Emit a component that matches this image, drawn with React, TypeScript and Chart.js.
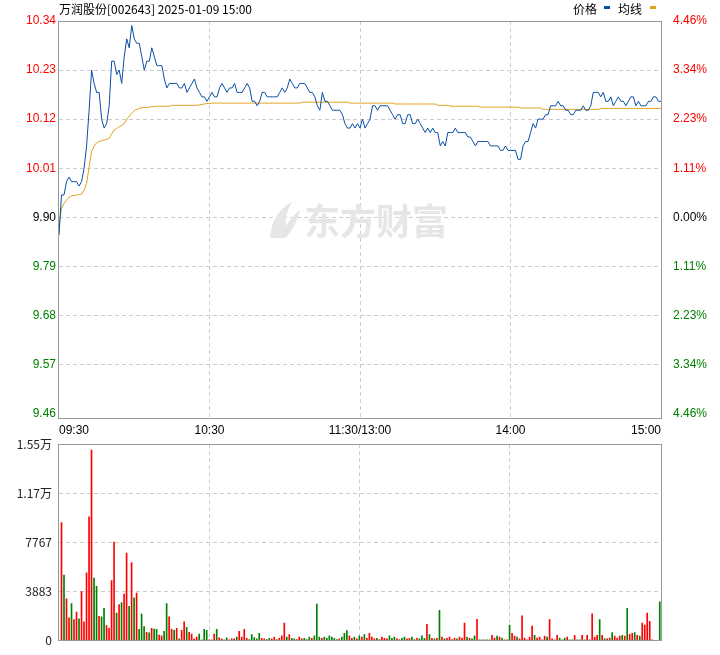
import React, { useEffect, useRef } from "react";
import { Chart, registerables } from "chart.js";

Chart.register(...registerables);

const TITLE = "万润股份[002643] 2025-01-09 15:00";
const LEGEND_PRICE = "价格";
const LEGEND_AVG = "均线";
const WATERMARK = "东方财富";

const timeTickValues = [0, 60, 120, 180, 240];
const timeTickLabels = ["09:30", "10:30", "11:30/13:00", "14:00", "15:00"];
const priceTicks = [9.46, 9.57, 9.68, 9.79, 9.9, 10.01, 10.12, 10.23, 10.34];
const pctLabels = ["4.46%", "3.34%", "2.23%", "1.11%", "0.00%", "1.11%", "2.23%", "3.34%", "4.46%"];
const PREV_CLOSE = 9.9;
const PRICE_MIN = 9.448;
const PRICE_MAX = 10.34;
const volTicks = [0, 3883, 7767, 11650, 15533];
const volTickLabels = ["0", "3883", "7767", "1.17万", "1.55万"];

const price = [
  9.86, 9.95, 9.95, 9.98, 9.99, 9.98, 9.98, 9.98, 9.97, 9.98,
  10.01, 10.06, 10.14, 10.23, 10.2, 10.18, 10.18, 10.12, 10.1, 10.11,
  10.15, 10.25, 10.25, 10.22, 10.23, 10.2, 10.26, 10.3, 10.28, 10.33,
  10.3, 10.29, 10.29, 10.26, 10.23, 10.25, 10.25, 10.28, 10.26, 10.24,
  10.24, 10.24, 10.21, 10.19, 10.2, 10.2, 10.2, 10.2, 10.19, 10.19,
  10.2, 10.18, 10.19, 10.2, 10.21, 10.19, 10.18, 10.17, 10.17, 10.16,
  10.17, 10.18, 10.17, 10.17, 10.19, 10.2, 10.19, 10.18, 10.19, 10.19,
  10.2, 10.18, 10.18, 10.18, 10.19, 10.2, 10.19, 10.16, 10.16, 10.15,
  10.16, 10.18, 10.18, 10.17, 10.17, 10.17, 10.17, 10.17, 10.18, 10.19,
  10.18, 10.19, 10.21, 10.2, 10.19, 10.19, 10.2, 10.2, 10.2, 10.19,
  10.18, 10.18, 10.17, 10.15, 10.14, 10.18, 10.16, 10.16, 10.15, 10.14,
  10.14, 10.14, 10.14, 10.13, 10.11, 10.1, 10.1, 10.11, 10.1, 10.11,
  10.1, 10.12, 10.1, 10.11, 10.12, 10.15, 10.15, 10.14, 10.15, 10.15,
  10.15, 10.15, 10.14, 10.13, 10.12, 10.13, 10.13, 10.11, 10.11, 10.13,
  10.13, 10.11, 10.11, 10.12, 10.11, 10.1, 10.09, 10.1, 10.09, 10.1,
  10.09, 10.09, 10.06, 10.07, 10.06, 10.09, 10.09, 10.09, 10.1, 10.09,
  10.09, 10.09, 10.09, 10.08, 10.08, 10.07, 10.06, 10.07, 10.07, 10.07,
  10.07, 10.07, 10.06, 10.06, 10.06, 10.06, 10.05, 10.05, 10.06, 10.05,
  10.05, 10.05, 10.05, 10.03, 10.03, 10.06, 10.07, 10.07, 10.09, 10.11,
  10.1, 10.12, 10.12, 10.12, 10.13, 10.13, 10.15, 10.15, 10.15, 10.16,
  10.15, 10.15, 10.14, 10.14, 10.13, 10.13, 10.14, 10.14, 10.14, 10.15,
  10.14, 10.14, 10.15, 10.18, 10.18, 10.18, 10.17, 10.18, 10.16, 10.16,
  10.17, 10.15, 10.16, 10.17, 10.16, 10.16, 10.15, 10.16, 10.17, 10.17,
  10.15, 10.16, 10.15, 10.15, 10.15, 10.16, 10.16, 10.17, 10.17, 10.16,
  10.16,
];

const avgPrice = [
  9.879, 9.92, 9.931, 9.939, 9.945, 9.948, 9.949, 9.95, 9.951, 9.952,
  9.961, 9.976, 10.013, 10.047, 10.06, 10.067, 10.07, 10.072, 10.073, 10.075,
  10.077, 10.087, 10.096, 10.099, 10.103, 10.106, 10.11, 10.119, 10.127, 10.133,
  10.139, 10.142, 10.144, 10.146, 10.146, 10.146, 10.147, 10.148, 10.148, 10.149,
  10.149, 10.149, 10.149, 10.149, 10.149, 10.151, 10.151, 10.151, 10.151, 10.151,
  10.151, 10.151, 10.151, 10.151, 10.151, 10.151, 10.152, 10.153, 10.154, 10.155,
  10.155, 10.156, 10.156, 10.156, 10.156, 10.156, 10.156, 10.156, 10.156, 10.156,
  10.156, 10.156, 10.156, 10.156, 10.156, 10.156, 10.156, 10.156, 10.156, 10.156,
  10.156, 10.156, 10.156, 10.156, 10.156, 10.156, 10.156, 10.156, 10.156, 10.156,
  10.156, 10.156, 10.156, 10.156, 10.156, 10.156, 10.156, 10.158, 10.158, 10.158,
  10.158, 10.158, 10.158, 10.158, 10.158, 10.158, 10.158, 10.158, 10.158, 10.158,
  10.158, 10.158, 10.158, 10.158, 10.158, 10.158, 10.156, 10.156, 10.156, 10.156,
  10.156, 10.156, 10.156, 10.156, 10.156, 10.156, 10.156, 10.156, 10.156, 10.156,
  10.156, 10.156, 10.156, 10.156, 10.154, 10.154, 10.154, 10.154, 10.154, 10.154,
  10.154, 10.154, 10.154, 10.154, 10.154, 10.154, 10.154, 10.154, 10.154, 10.154,
  10.154, 10.151, 10.151, 10.151, 10.151, 10.151, 10.149, 10.149, 10.149, 10.149,
  10.149, 10.149, 10.149, 10.149, 10.149, 10.149, 10.149, 10.149, 10.147, 10.147,
  10.147, 10.147, 10.147, 10.147, 10.147, 10.147, 10.147, 10.147, 10.147, 10.147,
  10.147, 10.147, 10.147, 10.147, 10.145, 10.145, 10.145, 10.145, 10.145, 10.145,
  10.145, 10.145, 10.145, 10.142, 10.142, 10.142, 10.142, 10.142, 10.142, 10.142,
  10.142, 10.142, 10.142, 10.142, 10.142, 10.142, 10.142, 10.142, 10.142, 10.142,
  10.142, 10.142, 10.142, 10.142, 10.142, 10.142, 10.144, 10.144, 10.144, 10.144,
  10.144, 10.144, 10.144, 10.144, 10.144, 10.144, 10.144, 10.144, 10.144, 10.144,
  10.144, 10.144, 10.144, 10.144, 10.144, 10.144, 10.144, 10.144, 10.144, 10.144,
  10.144,
];

const volume = [
  0, 9348, 5202, 3317, 1809, 2940, 1684, 2262, 1734, 3895,
  1508, 5378, 9801, 15078, 4951, 4297, 1935, 1885, 2563, 1206,
  980, 4750, 7790, 2186, 2865, 3016, 3694, 6936, 2714, 6182,
  3393, 3770, 905, 2111, 1131, 679, 628, 980, 930, 905,
  452, 402, 754, 2940, 1885, 905, 829, 980, 151, 829,
  1508, 1055, 679, 528, 151, 302, 528, 75, 905, 829,
  75, 75, 528, 905, 226, 151, 75, 226, 75, 151,
  151, 302, 754, 300, 900, 200, 100, 500, 250, 150,
  600, 200, 150, 100, 200, 150, 300, 100, 200, 400,
  1400, 300, 500, 200, 150, 100, 300, 150, 200, 100,
  300, 200, 400, 2900, 300, 200, 300, 200, 400, 300,
  200, 100, 150, 300, 600, 800, 400, 200, 300, 150,
  400, 300, 500, 200, 600, 300, 150, 200, 100, 300,
  200, 150, 400, 200, 300, 150, 100, 200, 300, 150,
  200, 300, 100, 200, 150, 400, 200, 1300, 500, 200,
  150, 200, 2400, 300, 150, 200, 300, 100, 200, 150,
  300, 200, 1400, 300, 200, 150, 400, 1700, 73, 73,
  73, 73, 73, 440, 220, 366, 293, 220, 73, 73,
  1245, 586, 366, 293, 147, 1978, 220, 73, 293, 1172,
  440, 220, 293, 73, 366, 293, 1685, 147, 73, 440,
  220, 73, 220, 293, 73, 73, 440, 73, 73, 440,
  73, 440, 73, 2125, 293, 440, 1685, 440, 147, 147,
  220, 659, 366, 220, 366, 440, 366, 2564, 513, 586,
  659, 440, 366, 1392, 1245, 2198, 1538, 73, 0, 0,
  3077,
];

// 1 = red (up), 0 = green (down)
const volUp = [
  1, 1, 0, 1, 1, 0, 1, 1, 0, 1,
  1, 1, 1, 1, 0, 0, 1, 0, 0, 1,
  1, 1, 1, 0, 1, 0, 1, 1, 0, 1,
  0, 1, 0, 0, 0, 1, 0, 1, 0, 0,
  1, 1, 0, 0, 1, 1, 0, 1, 0, 1,
  1, 0, 1, 1, 1, 1, 0, 0, 0, 0,
  1, 1, 1, 0, 1, 1, 0, 0, 1, 1,
  1, 0, 1, 1, 1, 1, 0, 0, 0, 0,
  0, 1, 1, 0, 0, 1, 1, 0, 1, 1,
  1, 0, 1, 0, 0, 1, 1, 1, 0, 0,
  0, 1, 0, 0, 0, 1, 0, 0, 0, 0,
  0, 0, 1, 0, 0, 0, 1, 1, 0, 1,
  0, 1, 0, 1, 1, 1, 1, 0, 1, 1,
  1, 1, 0, 0, 0, 1, 1, 0, 0, 1,
  1, 0, 0, 1, 0, 0, 0, 1, 0, 1,
  0, 1, 0, 1, 0, 1, 1, 1, 1, 0,
  1, 1, 1, 0, 1, 0, 0, 1, 0, 0,
  1, 0, 0, 1, 1, 0, 1, 0, 1, 1,
  0, 1, 1, 0, 1, 1, 1, 1, 1, 1,
  0, 1, 1, 1, 1, 0, 1, 1, 1, 1,
  0, 0, 0, 1, 0, 0, 1, 0, 0, 1,
  0, 1, 1, 1, 1, 1, 0, 1, 0, 1,
  1, 0, 1, 1, 1, 0, 1, 0, 1, 1,
  0, 1, 0, 1, 1, 1, 1, 1, 0, 0,
  0,
];

const BLUE = "#0a4fa6";
const GOLD = "#e0a11c";
const RED = "#ff0000";
const GREEN = "#008000";
const GRID = "#cccccc";
const FRAME = "#999999";
const AXIS_FONT = { family: "Arial, 'Liberation Sans', sans-serif", size: 12 };
const CJK = "'Noto Sans CJK SC', sans-serif";

const framePlugin = {
  id: "frame",
  afterDatasetsDraw(chart: any) {
    const { ctx, chartArea: a } = chart;
    ctx.save();
    ctx.strokeStyle = FRAME;
    ctx.lineWidth = 1;
    ctx.strokeRect(Math.round(a.left) - 0.5, Math.round(a.top) + 0.5, Math.round(a.right - a.left) + 1, Math.round(a.bottom - a.top) - 1);
    ctx.restore();
  },
};

const headerPlugin = {
  id: "header",
  afterDraw(chart: any) {
    const { ctx } = chart;
    ctx.save();
    ctx.font = `12px ${CJK}`;
    ctx.fillStyle = "#000";
    ctx.textBaseline = "middle";
    ctx.textAlign = "left";
    ctx.fillText(TITLE, 59, 9);
    ctx.fillText(LEGEND_PRICE, 573, 9);
    ctx.fillText(LEGEND_AVG, 618, 9);
    ctx.fillStyle = BLUE;
    ctx.fillRect(604, 6, 6, 3);
    ctx.fillStyle = GOLD;
    ctx.fillRect(650, 6, 6, 3);
    ctx.restore();
  },
};

const watermarkPlugin = {
  id: "watermark",
  beforeDatasetsDraw(chart: any) {
    const { ctx } = chart;
    ctx.save();
    ctx.fillStyle = "#e6e6e6";
    ctx.font = `bold 36px ${CJK}`;
    ctx.textBaseline = "middle";
    ctx.textAlign = "left";
    ctx.fillText(WATERMARK, 304, 221);
    ctx.beginPath();
    ctx.moveTo(270, 238);
    ctx.quadraticCurveTo(272, 212, 292, 202);
    ctx.quadraticCurveTo(284, 216, 286, 226);
    ctx.quadraticCurveTo(294, 214, 300, 210);
    ctx.quadraticCurveTo(296, 226, 286, 238);
    ctx.closePath();
    ctx.fill();
    ctx.restore();
  },
};

export default function App() {
  const priceRef = useRef<HTMLCanvasElement>(null);
  const volRef = useRef<HTMLCanvasElement>(null);

  useEffect(() => {
    const lastIdx = priceTicks.length - 1;
    const priceChart = new Chart(priceRef.current as HTMLCanvasElement, {
      type: "line",
      data: {
        datasets: [
          {
            data: price.map((v, i) => ({ x: i, y: v })),
            borderColor: BLUE,
            borderWidth: 1,
            pointRadius: 0,
            tension: 0,
            yAxisID: "y",
            order: 1,
          },
          {
            data: avgPrice.map((v, i) => ({ x: i, y: v })),
            borderColor: GOLD,
            borderWidth: 1,
            pointRadius: 0,
            tension: 0,
            yAxisID: "y",
            order: 2,
          },
        ],
      },
      options: {
        animation: false,
        responsive: false,
        events: [],
        layout: { padding: { top: 21, left: 0, right: 0, bottom: 0 } },
        plugins: { legend: { display: false }, tooltip: { enabled: false } },
        scales: {
          x: {
            type: "linear",
            min: 0,
            max: 240,
            afterBuildTicks: (s: any) => {
              s.ticks = timeTickValues.map((v) => ({ value: v }));
            },
            afterFit: (s: any) => {
              s.height = 21;
            },
            ticks: {
              autoSkip: false,
              maxRotation: 0,
              align: "inner",
              padding: 4,
              color: "#000",
              font: AXIS_FONT,
              callback: (_v: any, idx: number) => timeTickLabels[idx],
            },
            grid: {
              drawTicks: false,
              lineWidth: 1,
              color: (c: any) =>
                c.tick && (c.tick.value === 0 || c.tick.value === 240) ? "rgba(0,0,0,0)" : GRID,
            },
            border: { display: false, dash: [4, 3] },
          },
          y: {
            position: "left",
            min: PRICE_MIN,
            max: PRICE_MAX,
            afterBuildTicks: (s: any) => {
              s.ticks = priceTicks.map((v) => ({ value: v }));
            },
            afterFit: (s: any) => {
              s.width = 59;
            },
            ticks: {
              autoSkip: false,
              padding: 3,
              font: AXIS_FONT,
              color: (c: any) =>
                c.tick.value > PREV_CLOSE + 1e-6 ? RED : c.tick.value < PREV_CLOSE - 1e-6 ? GREEN : "#000",
              callback: (v: any) => Number(v).toFixed(2),
            },
            grid: {
              drawTicks: false,
              lineWidth: 1,
              color: (c: any) =>
                c.tick && (c.index === 0 || c.index === lastIdx) ? "rgba(0,0,0,0)" : GRID,
            },
            border: { display: false, dash: [4, 3] },
          },
          y1: {
            position: "right",
            min: PRICE_MIN,
            max: PRICE_MAX,
            afterBuildTicks: (s: any) => {
              s.ticks = priceTicks.map((v) => ({ value: v }));
            },
            afterFit: (s: any) => {
              s.width = 59;
            },
            ticks: {
              autoSkip: false,
              padding: 4,
              font: AXIS_FONT,
              color: (c: any) =>
                c.tick.value > PREV_CLOSE + 1e-6 ? RED : c.tick.value < PREV_CLOSE - 1e-6 ? GREEN : "#000",
              callback: (_v: any, idx: number) => pctLabels[idx],
            },
            grid: { display: false },
            border: { display: false },
          },
        },
      } as any,
      plugins: [watermarkPlugin, framePlugin, headerPlugin],
    });

    const volChart = new Chart(volRef.current as HTMLCanvasElement, {
      type: "bar",
      data: {
        datasets: [
          {
            data: volume.map((v, i) => ({ x: i, y: v })),
            backgroundColor: volUp.map((u) => (u ? RED : GREEN)),
            borderWidth: 0,
            barThickness: 1,
          },
        ],
      },
      options: {
        animation: false,
        responsive: false,
        events: [],
        layout: { padding: { top: 13, left: 0, right: 59, bottom: 0 } },
        plugins: { legend: { display: false }, tooltip: { enabled: false } },
        scales: {
          x: {
            type: "linear",
            min: 0,
            max: 240.5,
            offset: false,
            afterBuildTicks: (s: any) => {
              s.ticks = [60, 120, 180].map((v) => ({ value: v }));
            },
            afterFit: (s: any) => {
              s.height = 6;
            },
            ticks: { display: false },
            grid: { drawTicks: false, offset: false, color: GRID, lineWidth: 1 },
            border: { display: false, dash: [4, 3] },
          },
          y: {
            min: 0,
            max: volTicks[volTicks.length - 1],
            afterBuildTicks: (s: any) => {
              s.ticks = volTicks.map((v) => ({ value: v }));
            },
            afterFit: (s: any) => {
              s.width = 59;
            },
            ticks: {
              autoSkip: false,
              padding: 7,
              color: "#222",
              font: { family: CJK, size: 12 },
              callback: (_v: any, idx: number) => volTickLabels[idx],
            },
            grid: {
              drawTicks: false,
              lineWidth: 1,
              color: (c: any) =>
                c.tick && (c.index === 0 || c.index === volTicks.length - 1) ? "rgba(0,0,0,0)" : GRID,
            },
            border: { display: false, dash: [4, 3] },
          },
        },
      } as any,
      plugins: [framePlugin],
    });

    return () => {
      priceChart.destroy();
      volChart.destroy();
    };
  }, []);

  return (
    <div style={{ position: "absolute", left: 0, top: 0, width: 720, height: 655, background: "#fff" }}>
      <canvas
        ref={priceRef}
        width={720}
        height={440}
        style={{ position: "absolute", left: 0, top: 0, width: 720, height: 440, display: "block" }}
      />
      <canvas
        ref={volRef}
        width={720}
        height={225}
        style={{ position: "absolute", left: 0, top: 430, width: 720, height: 225, display: "block" }}
      />
    </div>
  );
}
